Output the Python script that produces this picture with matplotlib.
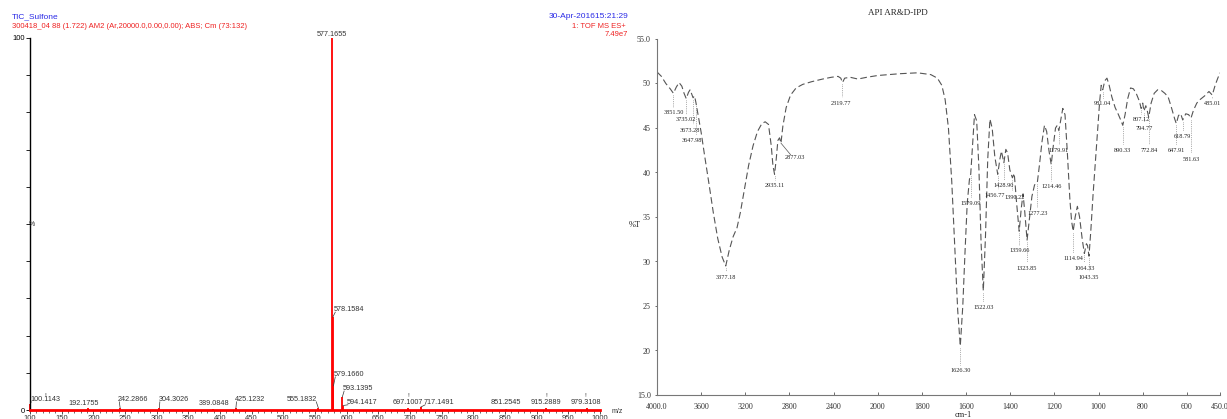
import numpy as np
import matplotlib
matplotlib.use("Agg")
import matplotlib.pyplot as plt
from matplotlib.ticker import MultipleLocator, FixedLocator

W, H = 1227, 419

# ---- mass spectrum (left) ----
ms_mz = [100.1143, 192.1755, 242.2866, 304.3026, 389.0848, 425.1232, 555.1832,
         577.1655, 578.1584, 579.1660, 593.1395, 594.1417, 697.1007, 717.1491,
         851.2545, 915.2889, 979.3108]
ms_int = [1.5, 0.5, 0.6, 0.6, 0.3, 0.5, 0.6,
          100, 25, 6.5, 3.5, 1.2, 0.6, 0.8,
          0.4, 0.5, 0.5]
# label text, label x (m/z), label y (%)
ms_labels = [("100.1143", 124, 1.9), ("192.1755", 184, 0.8), ("242.2866", 263, 1.9),
             ("304.3026", 327, 1.9), ("389.0848", 391, 0.8), ("425.1232", 448, 1.9),
             ("555.1832", 530, 1.9), ("577.1655", 577.1655, 100.9), ("578.1584", 604, 26),
             ("579.1660", 604, 8.6), ("593.1395", 618, 4.8), ("594.1417", 624, 1.1),
             ("697.1007", 696, 1.1), ("717.1491", 746, 1.1), ("851.2545", 852, 1.1),
             ("915.2889", 915, 1.1), ("979.3108", 977, 1.1)]
ms_flags = [124, 697, 915, 977]

# ---- IR spectrum (right) ----
ir_wn = [4000, 3960, 3920, 3880, 3851.50, 3825, 3800, 3775, 3755, 3735.02, 3715, 3700,
         3688, 3673.28, 3660, 3647.98, 3630, 3600, 3570, 3530, 3490, 3450, 3410, 3377.18,
         3345, 3310, 3275, 3245, 3210, 3170, 3130, 3090, 3050, 3020, 2990, 2965, 2950,
         2935.11, 2920, 2905, 2890, 2877.03, 2860, 2830, 2790, 2740, 2680, 2600, 2500,
         2420, 2360, 2335, 2319.77, 2300, 2250, 2180, 2100, 2000, 1900, 1820, 1760, 1730,
         1710, 1695, 1680, 1665, 1650, 1638, 1626.30, 1615, 1605, 1595, 1585, 1579.09,
         1572, 1562, 1552, 1542, 1532, 1522.03, 1512, 1502, 1492, 1482, 1470, 1456.77,
         1447, 1440, 1428.90, 1420, 1412, 1402, 1390.22, 1382, 1372, 1359.66, 1350, 1342,
         1334, 1323.85, 1312, 1302, 1290, 1277.23, 1268, 1256, 1245, 1235, 1225, 1214.46,
         1205, 1195, 1187, 1179.91, 1172, 1162, 1152, 1142, 1130, 1122, 1114.94, 1106,
         1096, 1086, 1074, 1064.33, 1055, 1050, 1043.35, 1035, 1025, 1015, 1005, 995, 988,
         981.04, 972, 962, 952, 940, 925, 910, 898, 890.33, 880, 868, 855, 842, 828, 815,
         807.12, 800, 794.77, 786, 780, 772.84, 762, 748, 732, 715, 700, 685, 670, 655,
         647.91, 638, 628, 618.79, 605, 592, 581.63, 570, 555, 540, 520, 500, 485.01, 472,
         460, 450]
ir_T = [51.3, 50.8, 50.0, 49.4, 48.9, 49.6, 50.1, 49.7, 48.9, 48.3, 49.0, 49.3,
        48.9, 48.4, 48.6, 47.9, 46.6, 44.5, 42.0, 38.8, 35.5, 32.6, 30.5, 29.5,
        31.3, 32.8, 33.8, 35.5, 38.0, 40.8, 43.0, 44.6, 45.5, 45.7, 45.4, 43.0, 40.8,
        39.8, 41.5, 43.6, 43.9, 43.3, 45.2, 47.3, 48.7, 49.5, 49.9, 50.2, 50.5,
        50.7, 50.8, 50.6, 50.1, 50.6, 50.7, 50.5, 50.7, 50.9, 51.1, 51.2, 51.0, 50.6,
        49.8, 48.2, 45.0, 39.0, 31.0, 24.5, 20.5, 25.0, 31.0, 36.5, 39.2, 39.8,
        42.5, 46.5, 45.8, 40.5, 32.0, 26.7, 33.0, 41.5, 46.0, 45.0, 41.8, 39.8,
        41.5, 42.4, 41.1, 42.6, 42.2, 40.3, 39.4, 39.9, 36.8, 33.4, 36.0, 37.6,
        35.5, 32.4, 35.0, 37.3, 38.6, 38.9, 40.8, 43.5, 45.3, 44.6, 42.5, 40.9,
        43.0, 45.0, 45.3, 44.7, 45.8, 47.2, 46.5, 42.5, 37.0, 34.5, 33.4, 35.0,
        36.2, 35.0, 32.5, 30.9, 32.0, 31.8, 30.6, 33.5, 37.5, 41.0, 44.5, 48.0, 49.8,
        49.3, 50.3, 50.6, 49.8, 48.5, 47.3, 46.5, 45.8, 45.3, 46.5, 48.3, 49.5, 49.4, 48.8, 48.0,
        47.2, 47.8, 46.9, 47.5, 47.0, 46.2, 47.8, 48.9, 49.3, 49.2, 48.9, 48.5, 47.3, 46.0,
        45.5, 46.4, 46.6, 45.9, 46.6, 46.5, 46.1, 47.0, 47.8, 48.2, 48.6, 49.1, 48.7, 49.8,
        50.6, 51.2]
# peak label, label x (cm-1), label y (%T)
ir_labels = [("3851.50", 3851.5, 46.7), ("3735.02", 3735, 45.9), ("3673.28", 3700, 44.7),
             ("3647.98", 3680, 43.6), ("3377.18", 3377.18, 28.2), ("2935.11", 2935.11, 38.5),
             ("2877.03", 2750, 41.7), ("2319.77", 2330, 47.8), ("1626.30", 1626.3, 17.7),
             ("1579.09", 1579.09, 36.5), ("1522.03", 1522.03, 24.8), ("1456.77", 1472, 37.4),
             ("1428.90", 1428.9, 38.5), ("1390.22", 1378, 37.2), ("1359.66", 1359.66, 31.2),
             ("1323.85", 1323.85, 29.2), ("1277.23", 1277.23, 35.4), ("1214.46", 1214.46, 38.4),
             ("1179.91", 1179.91, 42.5), ("1114.94", 1114.94, 30.3), ("1064.33", 1064.33, 29.2),
             ("1043.35", 1043.35, 28.2), ("981.04", 981.04, 47.7), ("890.33", 890.33, 42.5),
             ("807.12", 807.12, 45.9), ("794.77", 794.77, 45.0), ("772.84", 772.84, 42.5),
             ("647.91", 647.91, 42.5), ("618.79", 618.79, 44.0), ("581.63", 581.63, 41.5),
             ("485.01", 485.01, 47.7)]
ir_xticks = [4000, 3600, 3200, 2800, 2400, 2000, 1800, 1600, 1400, 1200, 1000, 800, 600, 450]
ir_xticklabels = ["4000.0", "3600", "3200", "2800", "2400", "2000", "1800", "1600",
                  "1400", "1200", "1000", "800", "600", "450.0"]
ir_yticks = [15, 20, 25, 30, 35, 40, 45, 50, 55]
ir_yticklabels = ["15.0", "20", "25", "30", "35", "40", "45", "50", "55.0"]

SANS = "Liberation Sans"
SERIF = "Liberation Serif"
BLUE = "#2a2ae6"
RED = "#ee2222"


def fpos(px, py):
    return px / W, 1 - py / H


fig = plt.figure(figsize=(W / 100, H / 100), dpi=100)

# ================= left: MS =================
ax1 = fig.add_axes([30 / W, 1 - 410 / H, 570 / W, 372 / H])
ax1.set_xlim(100, 1000)
ax1.set_ylim(0, 100)
ax1.vlines(ms_mz, 0, ms_int, color="red", lw=1.3, clip_on=False)
ax1.plot([100, 1000], [0, 0], color="red", lw=2.0, clip_on=False, zorder=3)
for s in ["top", "right", "bottom"]:
    ax1.spines[s].set_visible(False)
ax1.spines["left"].set_linewidth(1.0)
ax1.xaxis.set_major_locator(MultipleLocator(50))
ax1.xaxis.set_minor_locator(MultipleLocator(10))
ax1.tick_params(axis="x", which="major", length=3, width=0.6, pad=0.5,
                labelsize=5.5, colors="#333333")
ax1.tick_params(axis="x", which="minor", length=2, width=0.5, colors="#333333")
ax1.yaxis.set_major_locator(FixedLocator([0, 100]))
ax1.yaxis.set_minor_locator(FixedLocator(range(10, 100, 10)))
ax1.tick_params(axis="y", which="major", length=3, width=0.6, pad=0.5, labelsize=5.5)
ax1.tick_params(axis="y", which="minor", length=3, width=0.6)
for lab in ax1.get_xticklabels() + ax1.get_yticklabels():
    lab.set_fontfamily(SANS)

peak_h = dict(zip(ms_mz, ms_int))
for (txt, lx, ly), mz in zip(ms_labels, ms_mz):
    ax1.text(lx, ly, txt, fontsize=5.2, family=SANS, color="#333333",
             ha="center", va="bottom" if ly < 90 else "center", clip_on=False)
    h = peak_h[mz]
    if abs(lx - mz) > 12 and ly < 90:
        sgn = 1 if lx > mz else -1
        ax1.plot([mz, lx - sgn * 22], [h, ly + 0.3], color="#333333", lw=0.5)
for fx in ms_flags:
    ax1.text(fx, 3.3, "!", fontsize=4.5, family=SANS, color="#333333",
             ha="center", va="bottom")
ax1.text(-0.002, 0.5, "%", transform=ax1.transAxes, fontsize=5, family=SANS,
         ha="left", va="center", color="#333333")

fig.text(*fpos(12, 17), "TIC_Sulfone", fontsize=6, family=SANS, color=BLUE, va="center")
fig.text(*fpos(12, 27), "300418_04 88 (1.722) AM2 (Ar,20000.0,0.00,0.00); ABS; Cm (73:132)",
         fontsize=5.5, family=SANS, color=RED, va="center")
fig.text(*fpos(628, 16), "30-Apr-201615:21:29", fontsize=6, family=SANS, color=BLUE,
         va="center", ha="right")
fig.text(*fpos(626, 26), "1: TOF MS ES+", fontsize=5.5, family=SANS, color=RED,
         va="center", ha="right")
fig.text(*fpos(628, 34), "7.49e7", fontsize=5.5, family=SANS, color=RED,
         va="center", ha="right")
fig.text(*fpos(612, 411), "m/z", fontsize=5, family=SANS, color="#333333", va="center")

# ================= right: IR =================
def fwd(x):
    x = np.asarray(x, dtype=float)
    return np.where(x > 2000, 2000 + (x - 2000) * 0.5, x)


def inv(u):
    u = np.asarray(u, dtype=float)
    return np.where(u > 2000, 2000 + (u - 2000) * 2, u)


ax2 = fig.add_axes([657 / W, 1 - 395 / H, 563 / W, 356 / H])
ax2.set_xscale("function", functions=(fwd, inv))
ax2.set_xlim(4000, 450)
ax2.set_ylim(15, 55)
ax2.plot(ir_wn, ir_T, color="#555555", lw=0.8, ls=(0, (6, 3)))
for s in ["top", "right"]:
    ax2.spines[s].set_visible(False)
for s in ["left", "bottom"]:
    ax2.spines[s].set_color("#777777")
    ax2.spines[s].set_linewidth(0.8)
ax2.set_xticks(ir_xticks)
ax2.set_xticklabels(ir_xticklabels)
ax2.set_yticks(ir_yticks)
ax2.set_yticklabels(ir_yticklabels)
ax2.tick_params(axis="x", direction="in", length=2, width=0.5, pad=6, labelsize=5.8,
                colors="#333333")
ax2.tick_params(axis="y", direction="out", length=1.5, width=0.5, pad=3, labelsize=5.8,
                colors="#333333")
for lab in ax2.get_xticklabels() + ax2.get_yticklabels():
    lab.set_fontfamily(SERIF)

for txt, lx, ly in ir_labels:
    wn = float(txt)
    t = float(np.interp(wn, ir_wn[::-1], ir_T[::-1]))
    ax2.text(lx, ly, txt, fontsize=4.5, family=SERIF, color="#222222",
             ha="center", va="center")
    if txt == "2877.03":
        ax2.plot([wn, 2790], [t, ly + 0.3], color="#555555", lw=0.5)
    else:
        ax2.plot([wn, wn], [t - 0.2, ly + 0.7], color="#666666", lw=0.5, ls=":")

fig.text(*fpos(898, 13), "API AR&D-IPD", fontsize=6.5, family=SERIF, color="#222222",
         ha="center", va="center")
fig.text(*fpos(635, 225), "%T", fontsize=6, family=SERIF, color="#222222",
         ha="center", va="center")
fig.text(*fpos(963, 415), "cm-1", fontsize=6, family=SERIF, color="#222222",
         ha="center", va="center")

fig.savefig("out.png", dpi=100)
